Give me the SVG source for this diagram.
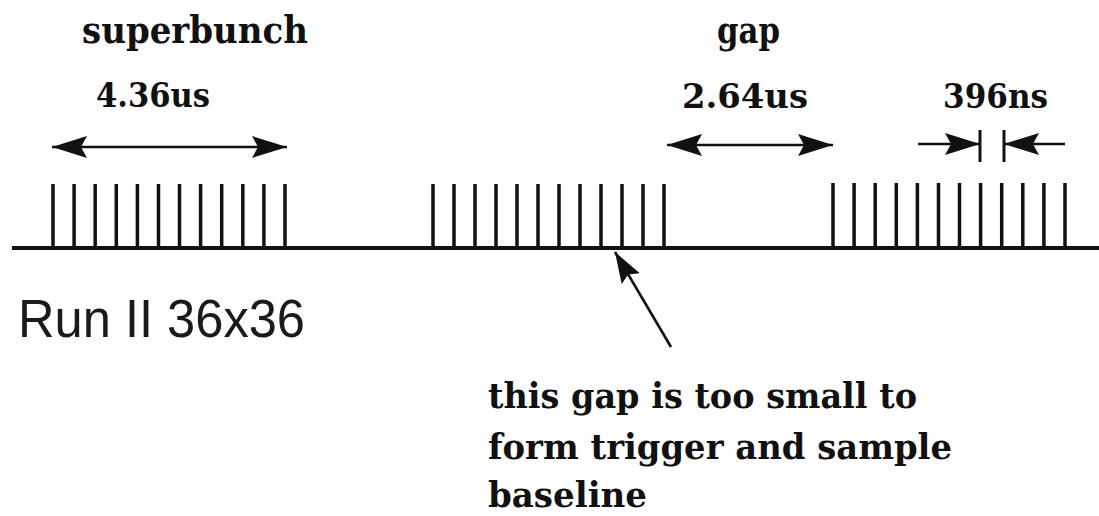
<svg xmlns="http://www.w3.org/2000/svg" width="1099" height="516" viewBox="0 0 1099 516">
<style>
.lbl{font-family:"DejaVu Serif","Liberation Serif",serif;font-weight:bold;fill:#111}
.run{font-family:"Liberation Sans",Arial,sans-serif;fill:#1a1a1a}
.tick{stroke:#111;stroke-width:3.5;fill:none}
.arr{stroke:#111;stroke-width:2.6;fill:none}
.bar{stroke:#111;stroke-width:3;fill:none}
</style>
<defs>
<marker id="ah" markerUnits="userSpaceOnUse" markerWidth="36" markerHeight="24" refX="35" refY="11.5" orient="auto-start-reverse" viewBox="0 0 36 24">
<path d="M0,0.5 L35,11.5 L0,22.5 L6,11.5 z" fill="#111"/>
</marker>
<marker id="ah2" markerUnits="userSpaceOnUse" markerWidth="32" markerHeight="24" refX="31" refY="11.5" orient="auto" viewBox="0 0 32 24">
<path d="M0,1 L31,11.5 L0,22 L5,11.5 z" fill="#111"/>
</marker>
</defs>
<rect width="1099" height="516" fill="#fff"/>
<g id="timeline">
<line x1="12" y1="248" x2="1099" y2="248" stroke="#111" stroke-width="4"/>
</g>
<g id="superbunch1">
<path class="tick" d="M53,184V248M74.1,184V248M95.2,184V248M116.3,184V248M137.4,184V248M158.5,184V248M179.5,184V248M200.6,184V248M221.7,184V248M242.8,184V248M263.9,184V248M285,184V248"/>
</g>
<g id="superbunch2">
<path class="tick" d="M433,184V248M454,184V248M475,184V248M496,184V248M517,184V248M538,184V248M559,184V248M580,184V248M601,184V248M622,184V248M643,184V248M664,184V248"/>
</g>
<g id="superbunch3">
<path class="tick" d="M833,183V248M854.1,183V248M875.2,183V248M896.3,183V248M917.4,183V248M938.5,183V248M959.5,183V248M980.6,183V248M1001.7,183V248M1022.8,183V248M1043.9,183V248M1065,183V248"/>
</g>
<g id="label-superbunch">
<text class="lbl" x="82" y="43" font-size="38" textLength="226" lengthAdjust="spacingAndGlyphs">superbunch</text>
<text class="lbl" x="96" y="107" font-size="34" textLength="114" lengthAdjust="spacingAndGlyphs">4.36us</text>
</g>
<g id="label-gap">
<text class="lbl" x="717" y="43" font-size="38" textLength="63" lengthAdjust="spacingAndGlyphs">gap</text>
<text class="lbl" x="682" y="108" font-size="34" textLength="126" lengthAdjust="spacingAndGlyphs">2.64us</text>
</g>
<g id="label-396ns">
<text class="lbl" x="943" y="108" font-size="34" textLength="105" lengthAdjust="spacingAndGlyphs">396ns</text>
</g>
<g id="label-run">
<text class="run" x="18" y="337" font-size="54" textLength="287" lengthAdjust="spacingAndGlyphs">Run II 36x36</text>
</g>
<g id="note">
<text class="lbl" font-size="36">
<tspan x="488" y="408" textLength="429" lengthAdjust="spacingAndGlyphs">this gap is too small to</tspan>
<tspan x="488" y="459" textLength="464" lengthAdjust="spacingAndGlyphs">form trigger and sample</tspan>
<tspan x="488" y="507" textLength="159" lengthAdjust="spacingAndGlyphs">baseline</tspan>
</text>
</g>
<g id="connectors">
<line class="arr" x1="52" y1="147" x2="287" y2="147" marker-start="url(#ah)" marker-end="url(#ah)"/>
<line class="arr" x1="667" y1="145" x2="833" y2="145" marker-start="url(#ah)" marker-end="url(#ah)"/>
<line class="arr" x1="918" y1="144" x2="980" y2="144" marker-end="url(#ah)"/>
<line class="bar" x1="980" y1="130" x2="980" y2="162"/>
<line class="bar" x1="1004" y1="130" x2="1004" y2="162"/>
<line class="arr" x1="1065" y1="144" x2="1004" y2="144" marker-end="url(#ah)"/>
<line class="arr" x1="671" y1="347" x2="615" y2="252" marker-end="url(#ah2)"/>
</g>
</svg>
